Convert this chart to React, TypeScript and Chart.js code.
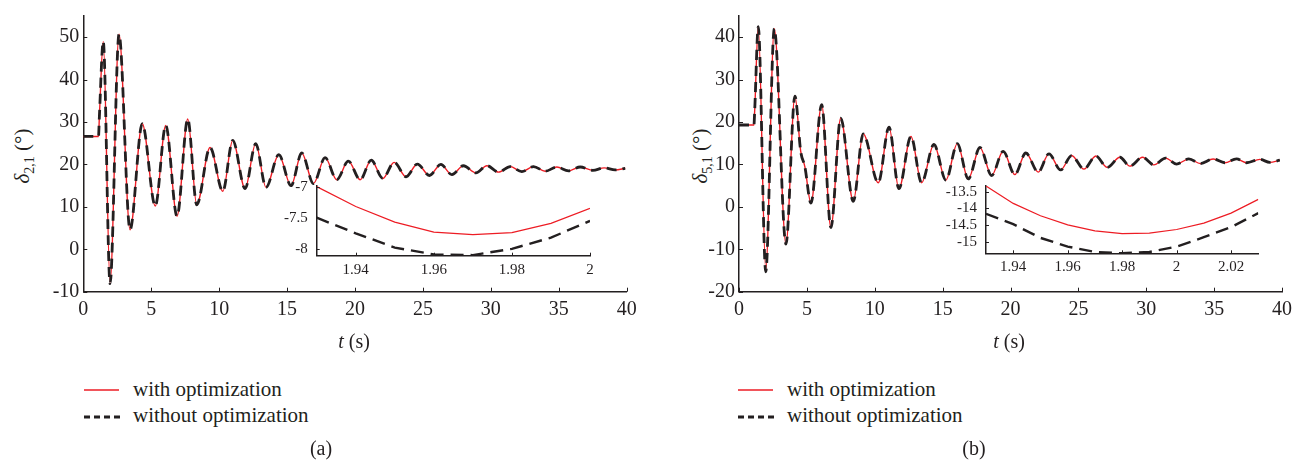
import React, { useEffect, useRef } from 'react';
import { Chart, registerables } from 'chart.js';

Chart.register(...registerables);

const FONT = '"Liberation Serif", "Times New Roman", serif';
const TEXT = '#231f20';
const AXIS = '#231f20';
const RED = '#ed1c24';
const BLACK = '#231f20';

// ---------- Panel (a): delta_{2,1} ----------
const LEFT_T = [0, 1.12, 1.18, 1.47, 1.97, 2.63, 3.44, 4.34, 5.30, 6.07, 6.90, 7.69, 8.35, 9.33, 10.27, 11.0, 11.91, 12.69, 13.45, 14.39, 15.29, 16.08, 16.94, 17.80, 18.66, 19.51, 20.38, 21.19, 22.05, 22.88, 23.76, 24.59, 25.48, 26.32, 27.13, 27.98, 28.90, 29.71, 30.56, 31.42, 32.28, 33.14, 34.0, 34.86, 35.71, 36.58, 37.51, 38.34, 39.15, 39.89];
const LEFT_WITH = [26.6, 26.6, 31, 49.0, -7.8, 50.7, 4.6, 29.6, 10.2, 29.2, 7.8, 30.7, 10.5, 24.0, 13.7, 25.7, 14.3, 24.9, 14.6, 22.3, 15.0, 22.7, 15.5, 21.6, 16.4, 20.8, 16.4, 21.0, 16.7, 20.5, 17.1, 20.1, 17.4, 20.0, 17.6, 19.7, 18.0, 19.7, 18.2, 19.5, 18.3, 19.5, 18.4, 19.4, 18.5, 19.4, 18.6, 19.2, 18.7, 19.1];
const LEFT_WITHOUT = [26.6, 26.6, 31, 49.0, -8.1, 50.7, 4.6, 29.6, 10.2, 29.2, 7.8, 30.7, 10.5, 24.0, 13.7, 25.7, 14.3, 24.9, 14.6, 22.3, 15.0, 22.7, 15.5, 21.6, 16.4, 20.8, 16.4, 21.0, 16.7, 20.5, 17.1, 20.1, 17.4, 20.0, 17.6, 19.7, 18.0, 19.7, 18.2, 19.5, 18.3, 19.5, 18.4, 19.4, 18.5, 19.4, 18.6, 19.2, 18.7, 19.1];
const LEFT_X_TICKS = [0, 5, 10, 15, 20, 25, 30, 35, 40];
const LEFT_Y_TICKS = [-10, 0, 10, 20, 30, 40, 50];

const LEFT_INSET_T = [1.93, 1.94, 1.95, 1.96, 1.97, 1.98, 1.99, 2.0];
const LEFT_INSET_WITH = [-7.0, -7.32, -7.57, -7.73, -7.77, -7.74, -7.59, -7.35];
const LEFT_INSET_WITHOUT = [-7.5, -7.75, -7.98, -8.09, -8.1, -8.0, -7.82, -7.55];
const LEFT_INSET_X_TICKS = [1.94, 1.96, 1.98, 2];
const LEFT_INSET_Y_TICKS = [-8, -7.5, -7];

// ---------- Panel (b): delta_{5,1} ----------
const RIGHT_T = [0, 1.10, 1.16, 1.42, 1.97, 2.60, 3.46, 4.12, 4.55, 4.85, 5.30, 6.09, 6.77, 7.49, 8.42, 9.15, 10.26, 11.05, 11.78, 12.67, 13.45, 14.36, 15.24, 16.08, 16.89, 17.75, 18.61, 19.46, 20.32, 21.13, 22.04, 22.83, 23.69, 24.50, 25.41, 26.29, 27.12, 28.06, 28.79, 29.73, 30.56, 31.42, 32.23, 33.14, 34.0, 34.93, 35.79, 36.65, 37.39, 38.37, 39.10, 39.84];
const RIGHT_WITH = [19.3, 19.3, 23, 42.5, -14.8, 42.0, -8.8, 26.1, 13.0, 9.5, 0.9, 24.1, -4.9, 20.9, 1.3, 17.2, 5.7, 18.8, 4.3, 16.6, 5.7, 14.7, 6.3, 14.9, 6.6, 14.0, 7.4, 13.1, 7.6, 12.7, 8.2, 12.5, 8.7, 12.1, 8.9, 12.0, 9.3, 11.7, 9.6, 11.7, 9.9, 11.5, 10.1, 11.3, 10.2, 11.3, 10.4, 11.3, 10.4, 11.2, 10.5, 11.0];
const RIGHT_WITHOUT = [19.3, 19.3, 23, 42.5, -15.3, 42.0, -8.8, 26.1, 13.0, 9.5, 0.9, 24.1, -4.9, 20.9, 1.3, 17.2, 5.7, 18.8, 4.3, 16.6, 5.7, 14.7, 6.3, 14.9, 6.6, 14.0, 7.4, 13.1, 7.6, 12.7, 8.2, 12.5, 8.7, 12.1, 8.9, 12.0, 9.3, 11.7, 9.6, 11.7, 9.9, 11.5, 10.1, 11.3, 10.2, 11.3, 10.4, 11.3, 10.4, 11.2, 10.5, 11.0];
const RIGHT_X_TICKS = [0, 5, 10, 15, 20, 25, 30, 35, 40];
const RIGHT_Y_TICKS = [-20, -10, 0, 10, 20, 30, 40];

const RIGHT_INSET_T = [1.93, 1.94, 1.95, 1.96, 1.97, 1.98, 1.99, 2.0, 2.01, 2.02, 2.03];
const RIGHT_INSET_WITH = [-13.33, -13.85, -14.22, -14.49, -14.67, -14.75, -14.74, -14.63, -14.44, -14.14, -13.73];
const RIGHT_INSET_WITHOUT = [-14.16, -14.47, -14.88, -15.14, -15.3, -15.34, -15.3, -15.14, -14.86, -14.56, -14.14];
const RIGHT_INSET_X_TICKS = [1.94, 1.96, 1.98, 2, 2.02];
const RIGHT_INSET_Y_TICKS = [-15, -14.5, -14, -13.5];

const SERIES_LABELS = ['with optimization', 'without optimization'];

const inwardTicks = {
  id: 'inwardTicks',
  afterDatasetsDraw(chart: any, _args: any, opts: any) {
    const { ctx, chartArea } = chart;
    const len = opts && opts.len ? opts.len : 4;
    const xs = chart.scales.x;
    const ys = chart.scales.y;
    ctx.save();
    ctx.strokeStyle = AXIS;
    ctx.lineWidth = 1;
    ctx.beginPath();
    for (const t of xs.ticks) {
      const px = Math.round(xs.getPixelForValue(t.value)) + 0.5;
      ctx.moveTo(px, chartArea.bottom);
      ctx.lineTo(px, chartArea.bottom - len);
    }
    for (const t of ys.ticks) {
      const py = Math.round(ys.getPixelForValue(t.value)) + 0.5;
      ctx.moveTo(chartArea.left, py);
      ctx.lineTo(chartArea.left + len, py);
    }
    ctx.stroke();
    ctx.restore();
  },
};

const fmt = (v: any) => String(Number(Number(v).toFixed(4)));

function makeConfig(p: any) {
  return {
    type: 'line',
    data: {
      datasets: [
        {
          label: SERIES_LABELS[1],
          data: p.t.map((x: number, i: number) => ({ x, y: p.without[i] })),
          borderColor: BLACK,
          borderWidth: p.blackWidth,
          borderDash: p.dash,
          pointRadius: 0,
          fill: false,
          tension: p.mono ? 0.4 : 0,
          cubicInterpolationMode: p.mono ? 'monotone' : 'default',
          order: 0,
        },
        {
          label: SERIES_LABELS[0],
          data: p.t.map((x: number, i: number) => ({ x, y: p.withV[i] })),
          borderColor: RED,
          borderWidth: p.redWidth,
          pointRadius: 0,
          fill: false,
          tension: p.mono ? 0.4 : 0,
          cubicInterpolationMode: p.mono ? 'monotone' : 'default',
          order: 1,
        },
      ],
    },
    options: {
      responsive: false,
      animation: false,
      devicePixelRatio: 1,
      events: [],
      layout: { padding: p.padding },
      plugins: {
        legend: { display: false },
        tooltip: { enabled: false },
        inwardTicks: { len: p.tickLen },
      },
      scales: {
        x: {
          type: 'linear',
          min: p.xMin,
          max: p.xMax,
          afterBuildTicks: (s: any) => { s.ticks = p.xTicks.map((v: number) => ({ value: v })); },
          afterFit: (s: any) => { s.height = p.xAxisH; },
          grid: { display: false, drawTicks: false },
          border: { display: true, color: AXIS, width: p.axisW },
          ticks: { font: { family: FONT, size: p.tickSize }, color: TEXT, padding: p.xPad, maxRotation: 0, autoSkip: false, callback: fmt },
        },
        y: {
          type: 'linear',
          min: p.yMin,
          max: p.yMax,
          afterBuildTicks: (s: any) => { s.ticks = p.yTicks.map((v: number) => ({ value: v })); },
          afterFit: (s: any) => { s.width = p.yAxisW; },
          grid: { display: false, drawTicks: false },
          border: { display: true, color: AXIS, width: p.axisW },
          ticks: { font: { family: FONT, size: p.tickSize }, color: TEXT, padding: p.yPad, autoSkip: false, callback: fmt },
        },
      },
    },
    plugins: [inwardTicks],
  };
}

function ChartBox({ left, top, width, height, config }: any) {
  const ref = useRef<HTMLCanvasElement | null>(null);
  useEffect(() => {
    const chart = new Chart(ref.current as any, config as any);
    return () => chart.destroy();
  }, []);
  return (
    <canvas
      ref={ref}
      width={width}
      height={height}
      style={{ position: 'absolute', left, top, width, height }}
    />
  );
}

const leftMain = makeConfig({
  t: LEFT_T, withV: LEFT_WITH, without: LEFT_WITHOUT,
  xMin: 0, xMax: 40, yMin: -10, yMax: 55, xTicks: LEFT_X_TICKS, yTicks: LEFT_Y_TICKS,
  padding: { left: 0, top: 2, right: 33.3, bottom: 0 }, yAxisW: 83.3, xAxisH: 48.3,
  tickSize: 20, xPad: 6, yPad: 4, tickLen: 4, axisW: 1.5,
  blackWidth: 2.8, redWidth: 1.4, dash: [10, 6], mono: true,
});

const rightMain = makeConfig({
  t: RIGHT_T, withV: RIGHT_WITH, without: RIGHT_WITHOUT,
  xMin: 0, xMax: 40, yMin: -20, yMax: 45, xTicks: RIGHT_X_TICKS, yTicks: RIGHT_Y_TICKS,
  padding: { left: 0, top: 2, right: 27, bottom: 0 }, yAxisW: 79, xAxisH: 48.3,
  tickSize: 20, xPad: 6, yPad: 4, tickLen: 4, axisW: 1.5,
  blackWidth: 2.8, redWidth: 1.4, dash: [10, 6], mono: true,
});

const leftInset = makeConfig({
  t: LEFT_INSET_T, withV: LEFT_INSET_WITH, without: LEFT_INSET_WITHOUT,
  xMin: 1.93, xMax: 2.0, yMin: -8.11, yMax: -6.99, xTicks: LEFT_INSET_X_TICKS, yTicks: LEFT_INSET_Y_TICKS,
  padding: { left: 0, top: 12.7, right: 15, bottom: 0 }, yAxisW: 56.7, xAxisH: 29.3,
  tickSize: 15, xPad: 5, yPad: 9, tickLen: 3, axisW: 1.5,
  blackWidth: 2.4, redWidth: 1.2, dash: [13, 7], mono: false,
});

const rightInset = makeConfig({
  t: RIGHT_INSET_T, withV: RIGHT_INSET_WITH, without: RIGHT_INSET_WITHOUT,
  xMin: 1.93, xMax: 2.03, yMin: -15.34, yMax: -13.33, xTicks: RIGHT_INSET_X_TICKS, yTicks: RIGHT_INSET_Y_TICKS,
  padding: { left: 0, top: 12.7, right: 16.7, bottom: 0 }, yAxisW: 56, xAxisH: 31.7,
  tickSize: 15, xPad: 5, yPad: 9, tickLen: 3, axisW: 1.5,
  blackWidth: 2.4, redWidth: 1.2, dash: [13, 7], mono: false,
});

function Legend({ left }: { left: number }) {
  return (
    <>
      <svg style={{ position: 'absolute', left, top: 380 }} width={36} height={20}>
        <line x1={0} y1={10} x2={35} y2={10} stroke={RED} strokeWidth={1.5} />
      </svg>
      <svg style={{ position: 'absolute', left, top: 407 }} width={36} height={20}>
        <line x1={0} y1={10} x2={36} y2={10} stroke={BLACK} strokeWidth={3} strokeDasharray="6 4" />
      </svg>
      <div style={{ position: 'absolute', left: left + 49, top: 377, fontSize: 21, lineHeight: '24px', whiteSpace: 'nowrap' }}>
        {SERIES_LABELS[0]}
      </div>
      <div style={{ position: 'absolute', left: left + 49, top: 403, fontSize: 21, lineHeight: '24px', whiteSpace: 'nowrap' }}>
        {SERIES_LABELS[1]}
      </div>
    </>
  );
}

function YTitle({ cx, cy, sub }: { cx: number; cy: number; sub: string }) {
  return (
    <div
      style={{
        position: 'absolute', left: cx, top: cy, fontSize: 21, lineHeight: '24px', whiteSpace: 'nowrap',
        transform: 'translate(-50%, -50%) rotate(-90deg)',
      }}
    >
      <i>δ</i>
      <sub style={{ fontSize: 14, verticalAlign: 'sub', lineHeight: 0 }}>{sub}</sub> (°)
    </div>
  );
}

function XTitle({ cx, cy }: { cx: number; cy: number }) {
  return (
    <div style={{ position: 'absolute', left: cx, top: cy, fontSize: 20, lineHeight: '24px', whiteSpace: 'nowrap', transform: 'translate(-50%, -50%)' }}>
      <i>t</i> (s)
    </div>
  );
}

function Caption({ cx, text }: { cx: number; text: string }) {
  return (
    <div style={{ position: 'absolute', left: cx, top: 448, fontSize: 20, lineHeight: '24px', whiteSpace: 'nowrap', transform: 'translate(-50%, -50%)' }}>
      {text}
    </div>
  );
}

export default function App() {
  return (
    <div
      style={{
        position: 'absolute', left: 0, top: 0, width: 1309, height: 472, background: '#ffffff',
        fontFamily: FONT, color: TEXT, overflow: 'hidden',
      }}
    >
      <YTitle cx={22} cy={156} sub="2,1" />
      <YTitle cx={700} cy={156} sub="5,1" />
      <ChartBox left={0} top={0} width={660} height={340} config={leftMain} />
      <ChartBox left={660} top={0} width={649} height={340} config={rightMain} />
      <ChartBox left={260} top={168} width={345} height={117} config={leftInset} />
      <ChartBox left={930} top={168} width={345} height={117} config={rightInset} />
      <XTitle cx={354} cy={341} />
      <XTitle cx={1009} cy={341} />
      <Legend left={84} />
      <Legend left={738} />
      <Caption cx={321} text="(a)" />
      <Caption cx={974} text="(b)" />
    </div>
  );
}
